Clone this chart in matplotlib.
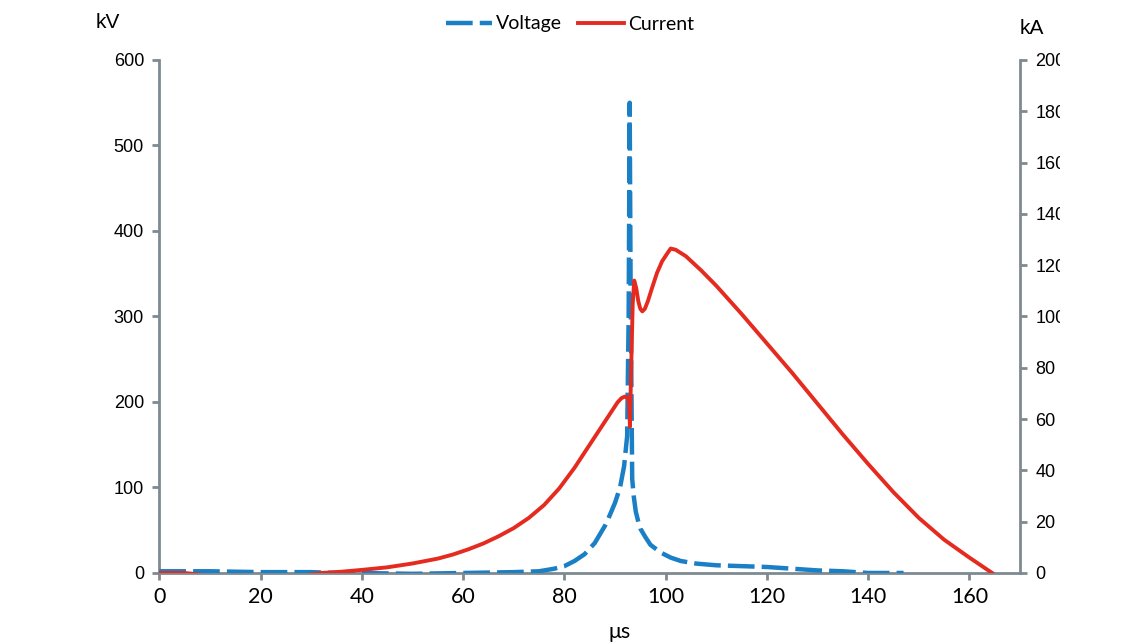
import matplotlib
matplotlib.use("Agg")
import matplotlib.pyplot as plt
from matplotlib.transforms import Bbox, TransformedBbox

# time axis in microseconds
volt_t = [0, 5, 10, 20, 30, 35, 40, 50, 60, 70, 75, 78, 80, 82, 84, 86, 88, 89, 90, 91,
          91.8, 92.4, 92.7, 92.9, 93.1, 93.4, 93.7, 94.1, 94.6, 95, 96, 97, 99, 101, 103,
          106, 110, 115, 120, 125, 130, 135, 140, 147]
volt_kv = [2, 2, 2, 1, 1, 0, 0, -1, 0, 1, 2, 5, 8, 14, 22, 35, 55, 68, 82, 100,
           125, 160, 300, 550, 320, 110, 90, 72, 60, 52, 42, 33, 24, 18, 14,
           11, 9, 8, 7, 5, 3, 2, 0, 0]

curr_t = [0, 5, 10, 20, 28, 32, 36, 40, 45, 50, 55, 58, 61, 64, 67, 70, 73, 76, 79, 82,
          84, 86, 88, 89.5, 90.5, 91.3, 92.0, 92.5, 92.8, 92.95, 93.2, 93.5, 93.8, 94.2,
          94.6, 95.0, 95.4, 95.9, 96.5, 97.3, 98.3, 99.3, 100.3, 101, 102, 104, 107, 110,
          115, 120, 125, 130, 135, 140, 145, 150, 155, 160, 164.5]
curr_ka = [0, 0, -1, -1, -1, 0, 0.5, 1.2, 2.2, 3.7, 5.6, 7.2, 9.2, 11.5, 14.3, 17.5, 21.5,
           26.5, 33, 41, 47, 53, 59, 63.5, 66.5, 68.2, 68.8, 68.2, 66, 57, 80, 105, 114,
           111, 106, 103, 102, 103, 106, 111, 117, 121.5, 124.5, 126.5, 126, 123.5, 118, 112,
           101, 89.5, 78, 66, 54, 42.5, 31.5, 21.5, 13, 6, 0]

x_ticks = [0, 20, 40, 60, 80, 100, 120, 140, 160]
kv_ticks = [0, 100, 200, 300, 400, 500, 600]
ka_ticks = [0, 20, 40, 60, 80, 100, 120, 140, 160, 180, 200]

blue = "#1b7fc6"
red = "#e52b1f"
axcol = "#7e8a92"

fig = plt.figure(figsize=(11.43, 6.43), dpi=100)
ax = fig.add_axes([0.1394, 0.1089, 0.753, 0.7978])
ax2 = ax.twinx()

lv, = ax.plot(volt_t, volt_kv, color=blue, lw=3.2, dashes=(6, 1.6), label="Voltage", zorder=3)
lc, = ax2.plot(curr_t, curr_ka, color=red, lw=2.8, label="Current", zorder=2,
               solid_joinstyle="round")

ax.set_xlim(0, 170)
ax.set_ylim(0, 600)
ax2.set_ylim(0, 200)
ax.set_xticks(x_ticks)
ax.set_yticks(kv_ticks)
ax2.set_yticks(ka_ticks)

for a in (ax, ax2):
    a.spines["top"].set_visible(False)
    for s in ("left", "right", "bottom"):
        a.spines[s].set_color(axcol)
        a.spines[s].set_linewidth(2)
    a.tick_params(colors=axcol, width=2, length=5, labelcolor="black")
ax.spines["right"].set_visible(False)
ax2.spines["left"].set_visible(False)
ax2.spines["bottom"].set_visible(False)

ax.tick_params(axis="x", labelsize=15.5, pad=5)
for lbl in ax.get_xticklabels():
    lbl.set_fontfamily("Lato")
ax.tick_params(axis="y", labelsize=13, pad=6)
ax2.tick_params(axis="y", labelsize=13, pad=6)
for lbl in ax.get_yticklabels() + ax2.get_yticklabels():
    lbl.set_fontfamily("Liberation Sans")

# right labels are cut off at the edge of the original crop
clip = TransformedBbox(Bbox([[0, 0], [1060 / 1143, 1]]), fig.transFigure)
for lbl in ax2.get_yticklabels():
    lbl.set_clip_box(clip)
    lbl.set_clip_on(True)

fig.text(108 / 1143, 1 - 22 / 643, "kV", fontsize=15, family="Liberation Sans", ha="center", va="center")
fig.text(1032 / 1143, 1 - 29 / 643, "kA", fontsize=15, family="Liberation Sans", ha="center", va="center")
fig.text(620 / 1143, 1 - 632 / 643, "\u03bcs", fontsize=15.5, family="Lato", ha="center", va="center")

fig.legend(handles=[lv, lc], loc="center", bbox_to_anchor=(570 / 1143, 1 - 24 / 643),
           ncol=2, frameon=False, prop={"family": "Lato", "size": 14},
           handlelength=2.4, handletextpad=0.2, columnspacing=0.8)

fig.savefig("out.png", dpi=100)
